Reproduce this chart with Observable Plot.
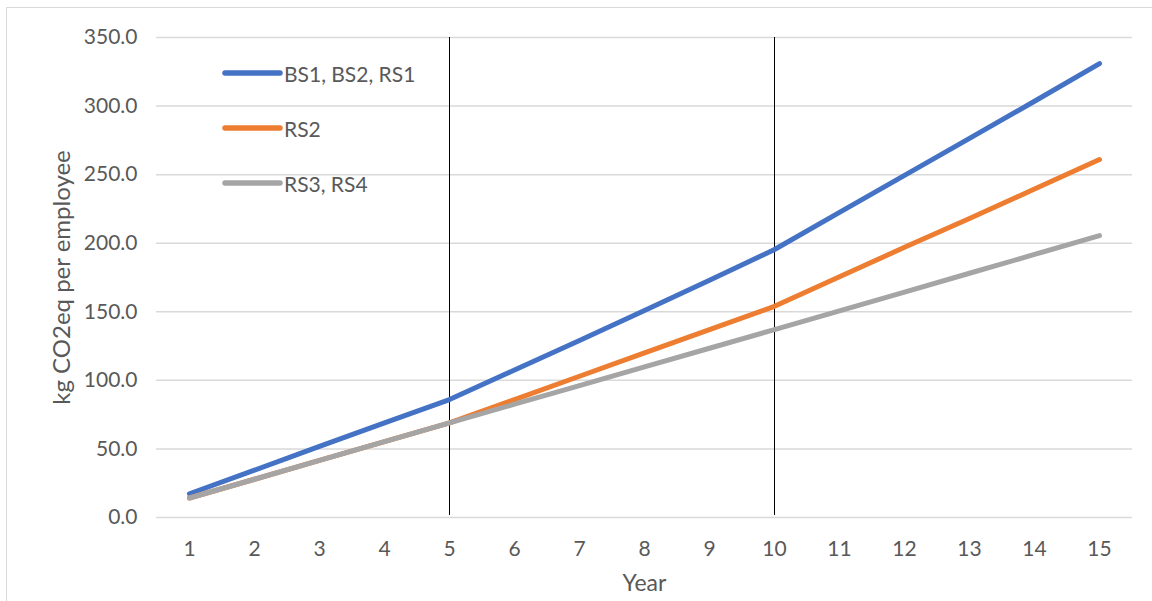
<!DOCTYPE html>
<html>
<head>
<meta charset="utf-8">
<script src="https://cdn.jsdelivr.net/npm/d3@7"></script>
<script src="https://cdn.jsdelivr.net/npm/@observablehq/plot@0.6"></script>
<style>
  html, body { margin: 0; padding: 0; background: #fff; }
  #wrap { position: relative; width: 1152px; height: 601px; overflow: hidden; font-family: Lato, "Open Sans", sans-serif; }
  #frame { position: absolute; left: 6px; top: 7px; width: 1160px; height: 610px; border: 1.5px solid #d9d9d9; box-sizing: border-box; pointer-events: none; }
  #legend { position: absolute; left: 220px; top: 0; }
  .item { position: absolute; left: 0; display: flex; align-items: center; height: 30px; white-space: nowrap; }
  .item svg { display: block; }
  .item span { font-size: 21px; color: #595959; margin-left: 0px; }
</style>
</head>
<body>
<div id="wrap">
  <div id="chart"></div>
  <div id="legend"></div>
  <div id="frame"></div>
</div>
<script>
// Cumulative emissions per employee by scenario, years 1-15
const years = [1, 2, 3, 4, 5, 6, 7, 8, 9, 10, 11, 12, 13, 14, 15];
const seriesNames = ["BS1, BS2, RS1", "RS2", "RS3, RS4"];
const seriesColors = ["#4472c4", "#ed7d31", "#a5a5a5"];
const bsValues   = [17.3, 34.5, 51.8, 69, 86, 107.5, 129, 151, 173, 195.4, 222.5, 249.5, 276.5, 303.5, 331];
const rs2Values  = [14.2, 27.9, 41.6, 55.3, 69, 86, 103, 120, 137, 154, 175.5, 197, 218, 239.5, 261];
const rs34Values = [14.2, 27.9, 41.6, 55.3, 69, 82.6, 96.2, 109.8, 123.4, 137, 150.7, 164.4, 178.1, 191.8, 205.5];
const yTicks = [0, 50, 100, 150, 200, 250, 300, 350];
const phaseYears = [5, 10];

const valueSets = [bsValues, rs2Values, rs34Values];
const rows = valueSets.map((vals, i) => years.map((yr, j) => ({year: yr, value: vals[j], series: seriesNames[i]})));

const font = "Lato, 'Open Sans', sans-serif";

const chart = Plot.plot({
  width: 1152,
  height: 601,
  marginTop: 37,
  marginRight: 20,
  marginBottom: 84,
  marginLeft: 156,
  style: {fontFamily: font, fontSize: "21px", color: "#595959", background: "transparent"},
  x: {type: "point", domain: years, padding: 0.5},
  y: {domain: [0, 350]},
  marks: [
    Plot.gridY(yTicks, {stroke: "#d9d9d9", strokeOpacity: 1, strokeWidth: 1.5}),
    Plot.ruleX(phaseYears, {y1: 1.5, y2: 350, stroke: "#000", strokeWidth: 1}),
    ...rows.map((r, i) => Plot.line(r, {x: "year", y: "value", stroke: seriesColors[i], strokeWidth: 5, strokeLinecap: "round", strokeLinejoin: "round"})),
    Plot.axisY(yTicks, {tickSize: 0, tickPadding: 19, tickFormat: d => d.toFixed(1), label: null, fill: "#595959"}),
    Plot.axisX(years, {tickSize: 0, tickPadding: 24, label: null, fill: "#595959"}),
    Plot.text(["kg CO2eq per employee"], {frameAnchor: "left", textAnchor: "middle", dx: -94, rotate: -90, fontSize: 24, fill: "#595959"}),
    Plot.text(["Year"], {frameAnchor: "bottom", dy: 73, fontSize: 23, fill: "#595959"})
  ]
});
document.getElementById("chart").appendChild(chart);

// Legend entries inside the plot area
const legend = document.getElementById("legend");
const legendRows = [73, 128, 183];
seriesNames.forEach((name, i) => {
  const item = document.createElement("div");
  item.className = "item";
  item.style.top = (legendRows[i] - 15) + "px";
  item.innerHTML = `<svg width="64" height="10"><line x1="5" y1="5" x2="60" y2="5" stroke="${seriesColors[i]}" stroke-width="5.5" stroke-linecap="round"/></svg><span>${name}</span>`;
  legend.appendChild(item);
});
</script>
</body>
</html>
